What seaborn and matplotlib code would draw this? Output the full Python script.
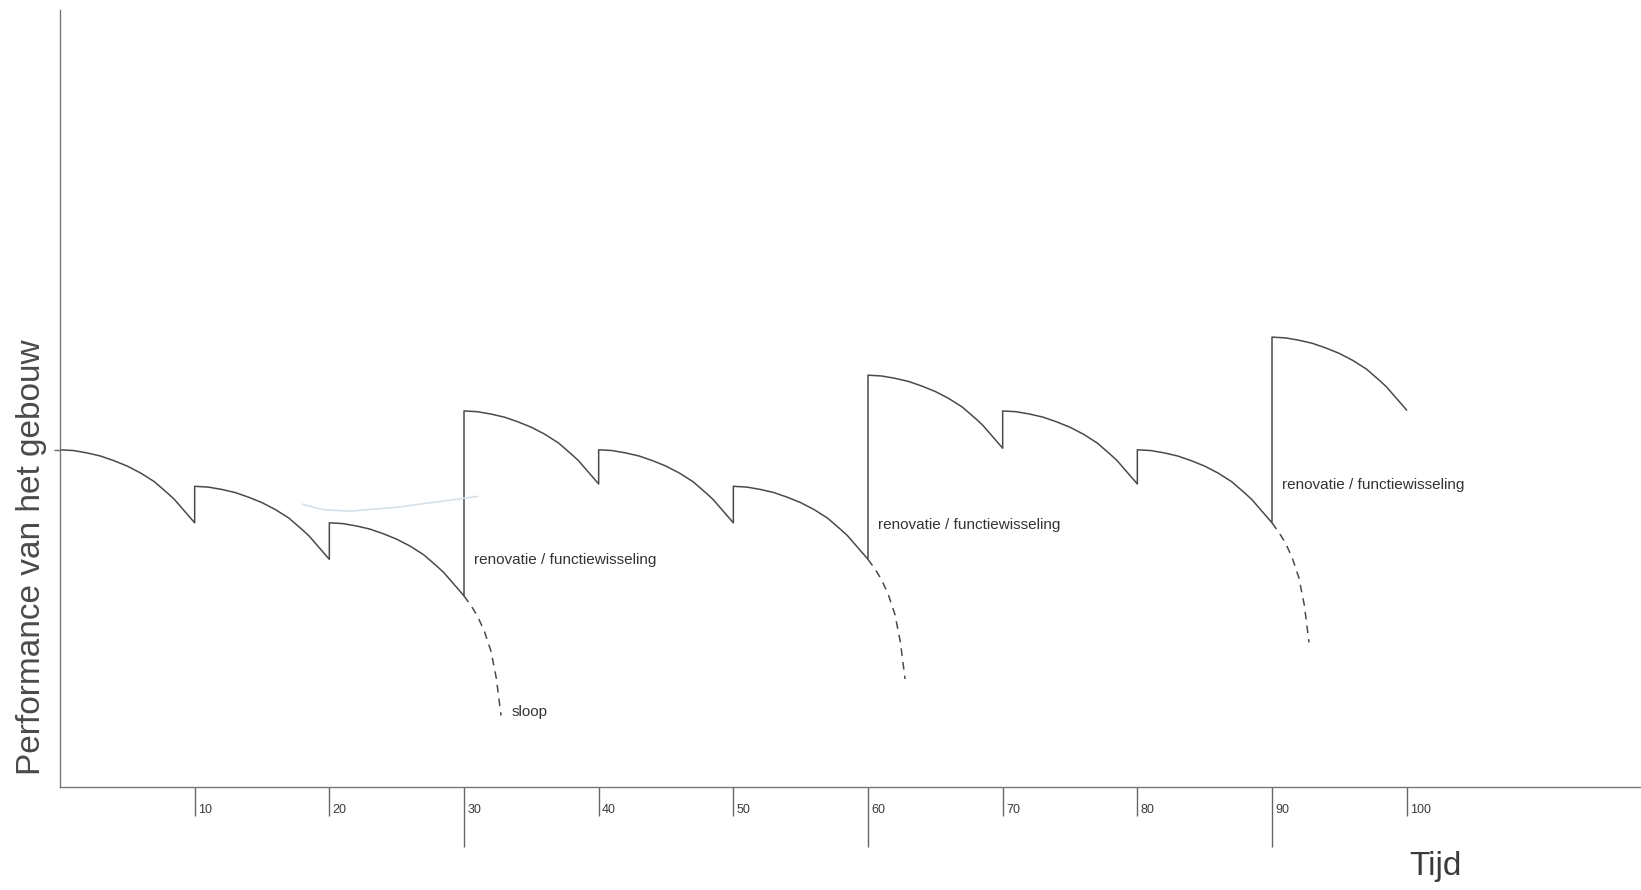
import pandas as pd
import matplotlib
matplotlib.use("Agg")
import matplotlib.pyplot as plt
import seaborn as sns

# one ageing curve shape, repeated every 10 years
arc_t = [0, 1, 2, 3, 4, 5, 6, 7, 8, 8.5, 9, 9.5, 10]
arc_drop = [0, 0.1, 0.4, 0.8, 1.4, 2.1, 3.0, 4.1, 5.6, 6.4, 7.4, 8.4, 9.4]
tail_t = [10, 10.5, 11, 11.5, 12, 12.4, 12.75]
tail_drop = [9.4, 10.6, 12.0, 13.9, 16.5, 20.0, 24.8]

segment_start = [0, 10, 20, 30, 40, 50, 60, 70, 80, 90]
segment_level = [43.4, 38.7, 34.0, 48.4, 43.4, 38.7, 53.0, 48.4, 43.4, 57.9]
tail_segments = [2, 5, 8]

smudge_x = [18.0, 19.5, 21.5, 25.0, 28.0, 31.0]
smudge_y = [36.4, 35.7, 35.5, 36.0, 36.7, 37.4]

short_ticks = [10, 20, 40, 50, 70, 80, 100]
long_ticks = [30, 60, 90]
tick_labels = ["10", "20", "30", "40", "50", "60", "70", "80", "90", "100"]

renovation_label = "renovatie / functiewisseling"
demolition_label = "sloop"

rows = []
for i, (x0, y0) in enumerate(zip(segment_start, segment_level)):
    for t, d in zip(arc_t, arc_drop):
        rows.append({"seg": i, "tijd": x0 + t, "perf": y0 - d})
solid = pd.DataFrame(rows)

rows = []
for i in tail_segments:
    for t, d in zip(tail_t, tail_drop):
        rows.append({"seg": i, "tijd": segment_start[i] + t, "perf": segment_level[i] - d})
tails = pd.DataFrame(rows)


def main():
    sns.set_style("white")
    plt.rcParams["font.family"] = ["Liberation Sans", "DejaVu Sans"]
    line_col = "#4a4a4a"

    fig = plt.figure(figsize=(16.41, 8.90), dpi=100)
    ax = fig.add_axes([60 / 1641, 103 / 890, 1581 / 1641, 777 / 890])

    sns.lineplot(data=solid, x="tijd", y="perf", sort=False, estimator=None,
                 color=line_col, lw=1.1, ax=ax)
    sns.lineplot(data=tails, x="tijd", y="perf", units="seg", sort=False, estimator=None,
                 color=line_col, lw=1.1, dashes=False, ax=ax)
    for l in ax.lines[1:]:
        l.set_dashes([5, 4])
    sns.lineplot(x=smudge_x, y=smudge_y, sort=False, estimator=None,
                 color="#d6e0e6", lw=1.2, ax=ax)

    ax.set_xlim(0, 117.4)
    ax.set_ylim(0, 100)
    sns.despine(ax=ax)
    for s in ["left", "bottom"]:
        ax.spines[s].set_color("#777777")
        ax.spines[s].set_linewidth(1.0)

    ax.set_xticks(short_ticks)
    ax.set_xticks(long_ticks, minor=True)
    ax.tick_params(axis="x", which="major", bottom=True, direction="out", length=21,
                   width=1, color="#666666", labelbottom=False)
    ax.tick_params(axis="x", which="minor", bottom=True, direction="out", length=43,
                   width=1, color="#666666", labelbottom=False)
    ax.set_yticks([segment_level[0]])
    ax.tick_params(axis="y", left=True, direction="out", length=4, width=1,
                   color="#666666", labelleft=False)

    for pos, lab in zip(sorted(short_ticks + long_ticks), tick_labels):
        ax.text(pos + 0.25, -2.96, lab, ha="left", va="center", fontsize=9,
                color="#3a3a3a", clip_on=False)

    ax.text(30.73, 29.2, renovation_label, ha="left", va="center", fontsize=11,
            color="#333333")
    ax.text(60.73, 33.7, renovation_label, ha="left", va="center", fontsize=11,
            color="#333333")
    ax.text(90.72, 38.9, renovation_label, ha="left", va="center", fontsize=11,
            color="#333333")
    ax.text(33.56, 9.65, demolition_label, ha="left", va="center", fontsize=11,
            color="#333333")

    ax.set_ylabel("Performance van het gebouw", fontsize=24, color="#4a4a4a", va="center")
    ax.yaxis.set_label_coords(-0.0183, 0.296)
    ax.set_xlabel("Tijd", fontsize=24, color="#3a3a3a", va="center")
    ax.xaxis.set_label_coords(0.870, -0.1017)

    plt.savefig("out.png", dpi=100)


if __name__ == "__main__":
    main()
